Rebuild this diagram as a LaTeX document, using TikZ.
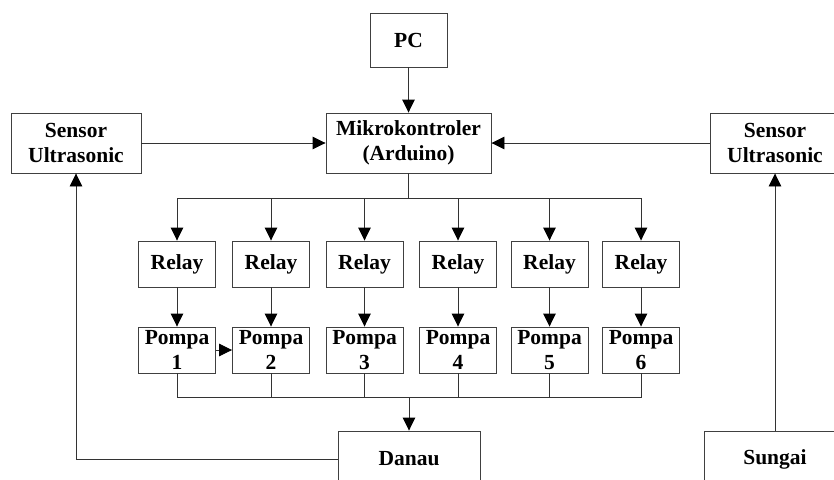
\documentclass[tikz,border=0pt]{standalone}
\usepackage{fontspec}
\setmainfont{Liberation Serif}
\usetikzlibrary{arrows.meta}
\begin{document}
\begin{tikzpicture}[x=1pt,y=-1pt,
  box/.style={draw=black!75,line width=0.9pt,rectangle,align=center,inner sep=0pt,
    font=\bfseries\fontsize{21.5}{24.5}\selectfont},
  relaybox/.style={box,minimum width=77pt,minimum height=46pt},
  ln/.style={draw=black!80,line width=0.9pt},
  arr/.style={ln,-{Triangle[length=13pt,width=12.5pt,color=black]}}]
\useasboundingbox (0,0) rectangle (834,479);
\begin{scope}
\clip (0,0) rectangle (834,479);
\node[box,minimum width=77pt,minimum height=54pt] (pc) at (408.5,40) {PC};
\node[box,minimum width=165pt,minimum height=60pt] (mk) at (408.5,143) {Mikrokontroler\\(Arduino)};
\node[box,minimum width=130pt,minimum height=60pt] (sl) at (76,143) {Sensor\\Ultrasonic};
\node[box,minimum width=130pt,minimum height=60pt] (sr) at (775,143) {Sensor\\Ultrasonic};
\foreach \i/\x in {1/177,2/271,3/364.5,4/458,5/549.5,6/641}{
  \node[relaybox] (r\i) at (\x,264) {Relay};
  \node[relaybox] (p\i) at (\x,350) {Pompa\\\i};
}
\node[box,minimum width=142pt,minimum height=56pt] (dn) at (409,459) {Danau};
\node[box,minimum width=142pt,minimum height=56pt] (sg) at (775,459) {Sungai};
\coordinate (bb) at (409,397);
\end{scope}
\draw[arr] (pc.south) -- (mk.north);
\draw[arr] (sl.east) -- (mk.west);
\draw[arr] (sr.west) -- (mk.east);
\foreach \i in {1,...,6}{
  \draw[arr] (mk.south) -- ++(0,25) -| (r\i.north);
  \draw[arr] (r\i.south) -- (p\i.north);
  \draw[ln] (p\i.south) |- (bb);
}
\draw[arr] (p1.east) -- (p2.west);
\draw[arr] (bb) -- (dn.north);
\draw[arr] (dn.west) -| (sl.south);
\draw[arr] (sg.north) -- (sr.south);
\end{tikzpicture}
\end{document}
